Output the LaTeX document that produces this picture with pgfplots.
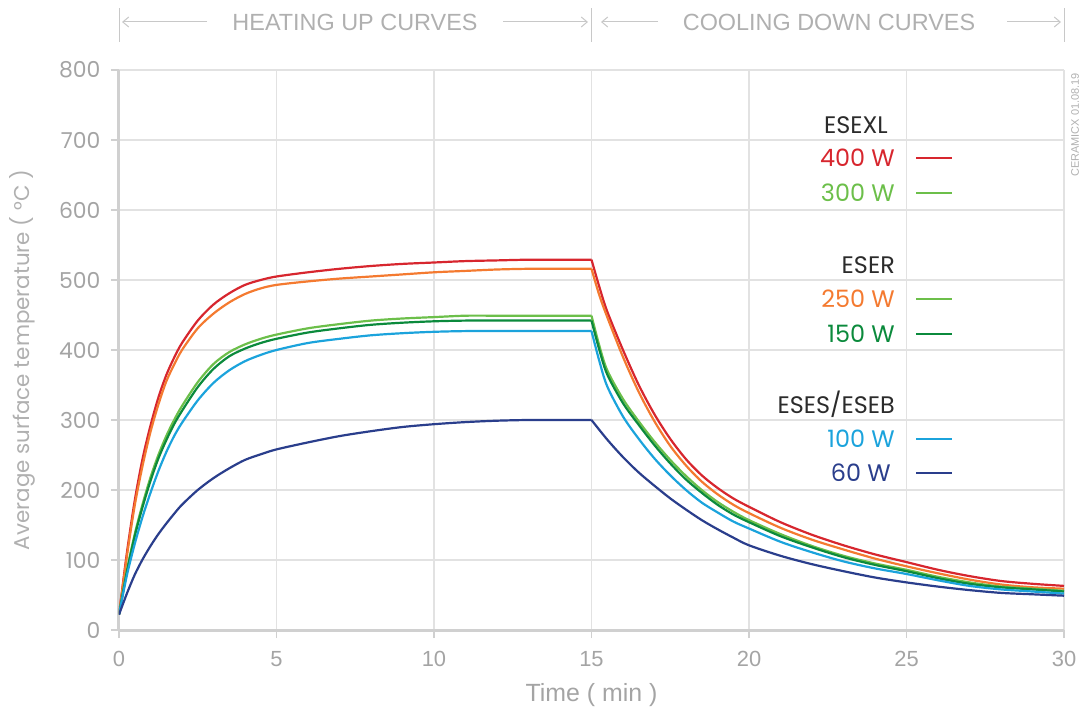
\documentclass[border=0pt]{standalone}
\usepackage{fontspec}
\setmainfont{Poppins}
\newfontfamily\libsans{Liberation Sans}
\usepackage{pgfplots}
\pgfplotsset{compat=1.18}
\usetikzlibrary{arrows.meta}
\definecolor{cRed}{HTML}{D7262E}
\definecolor{cOrange}{HTML}{F47A30}
\definecolor{cLGreen}{HTML}{6CBF4A}
\definecolor{cDGreen}{HTML}{0B8A3C}
\definecolor{cCyan}{HTML}{1BA3DC}
\definecolor{cNavy}{HTML}{2A3E8C}
\definecolor{cDark}{HTML}{2B2B2B}
\definecolor{cTick}{HTML}{A4A4A4}
\definecolor{cGrid}{HTML}{E2E2E2}
\definecolor{cAxis}{HTML}{D0D0D0}
\definecolor{cHead}{HTML}{B0B0B0}
\definecolor{cArrow}{HTML}{C8C8C8}
\begin{document}
\begin{tikzpicture}
\path[use as bounding box] (-119bp,-83bp) rectangle (964bp,630bp);
\begin{axis}[
  at={(0,0)}, anchor=south west, scale only axis,
  width=945bp, height=560bp,
  xmin=0, xmax=30, ymin=0, ymax=800,
  xtick={0,5,...,30}, ytick={0,100,...,800},
  grid=major, grid style={draw=cGrid, line width=1.5bp},
  axis x line*=bottom, axis y line*=left,
  axis line style={draw=cAxis, line width=3bp, -},
  tick style={draw=cAxis, line width=1.5bp},
  major tick length=8bp, tick align=outside,
  yticklabel style={font=\fontsize{22}{22}\selectfont, text=cTick, xshift=-7bp, /pgf/number format/assume math mode=true},
  xticklabel style={font=\libsans\fontsize{22}{22}\selectfont, text=cTick, yshift=-10bp, /pgf/number format/assume math mode=true},
  xlabel={Time ( min )},
  ylabel={Average surface temperature ( °C )},
  xlabel style={font=\libsans\fontsize{25}{25}\selectfont, text=cTick, at={(axis description cs:0.5,0)}, anchor=center, yshift=-65bp},
  ylabel style={font=\fontsize{21.5}{21.5}\selectfont, text=cHead, at={(axis description cs:0,0.482)}, anchor=center, yshift=97bp},
  every axis plot/.append style={line width=2.2bp, smooth, tension=0.5},
]
% heating
\addplot[cRed] coordinates {(0,22)(0.25,110)(0.5,185)(0.75,245)(1,292)(1.25,332)(1.5,364)(1.75,389)(2,410)(2.5,442)(3,465)(3.5,481)(4,493)(4.5,500)(5,505)(6,511)(7,516)(8,520)(9,523)(10,525)(11,527)(12,528)(13,529)(14,529)(15,529)};
\addplot[cOrange] coordinates {(0,22)(0.25,105)(0.5,178)(0.75,235)(1,283)(1.25,322)(1.5,355)(1.75,379)(2,400)(2.5,431)(3,452)(3.5,468)(4,480)(4.5,488)(5,493)(6,498)(7,502)(8,505)(9,508)(10,511)(11,513)(12,515)(13,516)(14,516)(15,516)};
\addplot[cLGreen] coordinates {(0,22)(0.25,85)(0.5,137)(0.75,180)(1,218)(1.25,250)(1.5,277)(1.75,300)(2,320)(2.5,354)(3,380)(3.5,397)(4,408)(4.5,416)(5,422)(6,431)(7,437)(8,442)(9,445)(10,447)(11,449)(12,449)(13,449)(14,449)(15,449)};
\addplot[cDGreen] coordinates {(0,22)(0.25,83)(0.5,134)(0.75,176)(1,213)(1.25,245)(1.5,271)(1.75,294)(2,313)(2.5,347)(3,373)(3.5,391)(4,402)(4.5,410)(5,416)(6,425)(7,431)(8,436)(9,439)(10,441)(11,442)(12,442)(13,442)(14,442)(15,442)};
\addplot[cCyan] coordinates {(0,22)(0.25,78)(0.5,123)(0.75,162)(1,196)(1.25,227)(1.5,254)(1.75,277)(2,296)(2.5,328)(3,353)(3.5,371)(4,384)(4.5,393)(5,400)(6,410)(7,416)(8,421)(9,424)(10,426)(11,427)(12,427)(13,427)(14,427)(15,427)};
\addplot[cNavy] coordinates {(0,22)(0.25,52)(0.5,79)(0.75,101)(1,120)(1.25,137)(1.5,152)(1.75,166)(2,179)(2.5,200)(3,217)(3.5,231)(4,243)(4.5,251)(5,258)(6,268)(7,277)(8,284)(9,290)(10,294)(11,297)(12,299)(13,300)(14,300)(15,300)};
% cooling
\addplot[cRed] coordinates {(15,529)(15.25,490)(15.5,455)(16,400)(16.5,350)(17,308)(17.5,273)(18,244)(18.5,221)(19,203)(19.5,188)(20,176)(21,154)(22,136)(23,121)(24,108)(25,97)(26,86)(27,77)(28,70)(29,66)(30,63)};
\addplot[cOrange] coordinates {(15,516)(15.25,478)(15.5,447)(16,390)(16.5,340)(17,298)(17.5,263)(18,235)(18.5,212)(19,194)(19.5,179)(20,167)(21,146)(22,129)(23,115)(24,102)(25,91)(26,81)(27,72)(28,65)(29,61)(30,59)};
\addplot[cLGreen] coordinates {(15,449)(15.25,406)(15.5,371)(16,330)(16.5,298)(17,269)(17.5,243)(18,220)(18.5,200)(19,183)(19.5,169)(20,157)(21,137)(22,120)(23,106)(24,95)(25,86)(26,76)(27,68)(28,62)(29,59)(30,56)};
\addplot[cDGreen] coordinates {(15,442)(15.25,400)(15.5,365)(16,324)(16.5,293)(17,264)(17.5,238)(18,215)(18.5,196)(19,179)(19.5,165)(20,154)(21,134)(22,118)(23,104)(24,93)(25,84)(26,74)(27,66)(28,61)(29,58)(30,55)};
\addplot[cCyan] coordinates {(15,427)(15.25,384)(15.5,348)(16,305)(16.5,273)(17,245)(17.5,221)(18,200)(18.5,182)(19,168)(19.5,155)(20,145)(21,126)(22,111)(23,98)(24,88)(25,80)(26,71)(27,63)(28,58)(29,55)(30,52)};
\addplot[cNavy] coordinates {(15,300)(15.5,272)(16,247)(16.5,225)(17,206)(17.5,188)(18,172)(18.5,157)(19,144)(19.5,132)(20,121)(21,106)(22,94)(23,84)(24,75)(25,68)(26,62)(27,57)(28,53)(29,51)(30,49)};
\end{axis}
% header
\draw[cArrow, line width=1bp] (0,588bp) -- (0,622bp);
\draw[cArrow, line width=1bp] (472bp,588bp) -- (472bp,622bp);
\draw[cArrow, line width=1bp] (945bp,588bp) -- (945bp,622bp);
\draw[cArrow, line width=1bp, -{Straight Barb[length=6bp,width=10bp]}] (88bp,608bp) -- (3bp,608bp);
\draw[cArrow, line width=1bp, -{Straight Barb[length=6bp,width=10bp]}] (384bp,608bp) -- (469bp,608bp);
\draw[cArrow, line width=1bp, -{Straight Barb[length=6bp,width=10bp]}] (539bp,608bp) -- (482bp,608bp);
\draw[cArrow, line width=1bp, -{Straight Barb[length=6bp,width=10bp]}] (888bp,608bp) -- (942bp,608bp);
\node[text=cHead, font=\libsans\fontsize{23.5}{23.5}\selectfont] at (236bp,608bp) {HEATING UP CURVES};
\node[text=cHead, font=\libsans\fontsize{23.5}{23.5}\selectfont] at (710bp,608bp) {COOLING DOWN CURVES};
% legend
\begin{scope}[every node/.style={anchor=east, inner sep=0pt, font=\fontsize{24}{24}\selectfont}]
\node[text=cDark] at (769bp,505bp) {ESEXL};
\node[text=cRed] at (776bp,472bp) {400 W};
\node[text=cLGreen] at (776bp,437bp) {300 W};
\node[text=cDark] at (776bp,365bp) {ESER};
\node[text=cOrange] at (776bp,331bp) {250 W};
\node[text=cDGreen] at (776bp,296bp) {150 W};
\node[text=cDark] at (776bp,226bp) {ESES/ESEB};
\node[text=cCyan] at (776bp,191bp) {100 W};
\node[text=cNavy] at (772bp,157bp) {60 W};
\end{scope}
\begin{scope}[line width=2.2bp]
\draw[cRed] (797bp,472bp) -- (833bp,472bp);
\draw[cLGreen] (797bp,437bp) -- (833bp,437bp);
\draw[cLGreen] (797bp,331bp) -- (833bp,331bp);
\draw[cDGreen] (797bp,296bp) -- (833bp,296bp);
\draw[cCyan] (797bp,191bp) -- (833bp,191bp);
\draw[cNavy] (797bp,157bp) -- (833bp,157bp);
\end{scope}
\node[rotate=90, text=cHead, font=\libsans\fontsize{11}{11}\selectfont] at (956bp,505bp) {CERAMICX 01.08.19};
\end{tikzpicture}
\end{document}
